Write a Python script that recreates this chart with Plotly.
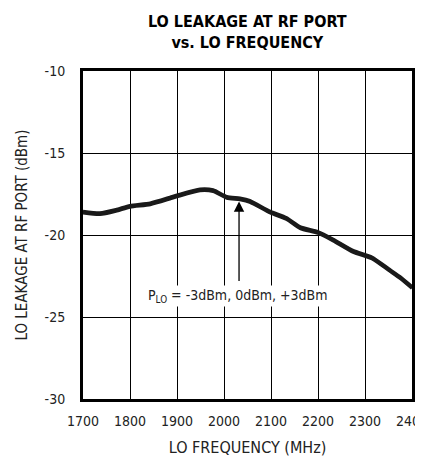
import plotly.graph_objects as go

freq_mhz = [1700, 1736, 1770, 1800, 1843, 1885, 1902, 1949, 1977, 2006, 2034, 2055,
            2098, 2133, 2162, 2200, 2232, 2275, 2315, 2350, 2375, 2400]
leak_m3 = [-18.6, -18.7, -18.5, -18.25, -18.1, -17.75, -17.6, -17.25, -17.3, -17.7, -17.8, -17.95,
           -18.6, -19.0, -19.55, -19.85, -20.3, -21.0, -21.4, -22.1, -22.6, -23.2]
leak_0 = [-18.55, -18.65, -18.45, -18.2, -18.05, -17.7, -17.55, -17.2, -17.25, -17.65, -17.75, -17.9,
          -18.55, -18.95, -19.5, -19.8, -20.25, -20.95, -21.35, -22.05, -22.55, -23.15]
leak_p3 = [-18.65, -18.75, -18.55, -18.3, -18.15, -17.8, -17.65, -17.3, -17.35, -17.75, -17.85, -18.0,
           -18.65, -19.05, -19.6, -19.9, -20.35, -21.05, -21.45, -22.15, -22.65, -23.25]
series_names = ["P_LO = -3dBm", "P_LO = 0dBm", "P_LO = +3dBm"]

x_ticks = [1700, 1800, 1900, 2000, 2100, 2200, 2300, 2400]
x_tick_text = ["1700", "1800", "1900", "2000", "2100", "2200", "2300", "2400"]
y_ticks = [-30, -25, -20, -15, -10]
y_tick_text = ["-30", "-25", "-20", "-15", "-10"]

FONT = "DejaVu Sans Condensed, Roboto, Liberation Sans, sans-serif"

# The page body adds an 8 px margin, so the figure is sized 8 px smaller and
# its margins are shifted to land the plot where the reference has it.
fig = go.Figure()
for name, vals in zip(series_names, [leak_m3, leak_0, leak_p3]):
    fig.add_trace(go.Scatter(x=freq_mhz, y=vals, mode="lines", name=name,
                             line=dict(color="#1a1a1a", width=3.2, shape="spline", smoothing=0.6)))

fig.add_annotation(x=2032, y=-17.95, ax=2032, ay=-22.9, xref="x", yref="y", axref="x", ayref="y",
                   showarrow=True, arrowhead=2, arrowsize=1.6, arrowwidth=1.3, arrowcolor="black", text="")
fig.add_annotation(x=2030, y=-23.7, xref="x", yref="y", showarrow=False,
                   text="P<sub>LO</sub> = -3dBm, 0dBm, +3dBm", bgcolor="white",
                   font=dict(family=FONT, size=14, color="#222"))
fig.add_annotation(x=1.0, y=1.0, xref="paper", yref="paper", xanchor="left", yanchor="top",
                   xshift=3, text="MAX2041 toc04", textangle=90, showarrow=False,
                   font=dict(family=FONT, size=7, color="#222"))
fig.add_annotation(x=0.5, y=1 + (63 - 24) / 328, xref="paper", yref="paper", xanchor="center",
                   yanchor="middle", showarrow=False,
                   text="<b>LO LEAKAGE AT RF PORT</b><br><b>vs. LO FREQUENCY</b>",
                   font=dict(family=FONT, size=16, color="black"))

fig.update_layout(
    width=415, height=452,
    margin=dict(l=75, r=11, t=63, b=61),
    paper_bgcolor="white", plot_bgcolor="white",
    showlegend=False,
    font=dict(family=FONT, size=14, color="#222"),
)
fig.update_xaxes(range=[1700, 2400], tickvals=x_ticks, ticktext=x_tick_text, showgrid=True,
                 gridcolor="black", gridwidth=1, automargin=False, ticklabeloverflow="allow",
                 ticklabelstandoff=7,
                 showline=True, linecolor="black", linewidth=3, mirror=True, ticks="",
                 zeroline=False, title=dict(text="LO FREQUENCY (MHz)", standoff=15,
                                            font=dict(family=FONT, size=16)),
                 tickfont=dict(family=FONT, size=14))
fig.update_yaxes(range=[-30, -10], tickvals=y_ticks, ticktext=y_tick_text, showgrid=True,
                 gridcolor="black", gridwidth=1, automargin=False, ticklabelstandoff=12,
                 showline=True, linecolor="black", linewidth=3, mirror=True, ticks="",
                 zeroline=False, title=dict(text="LO LEAKAGE AT RF PORT (dBm)", standoff=14,
                                            font=dict(family=FONT, size=15)),
                 tickfont=dict(family=FONT, size=14))

fig.write_html("out.html")
